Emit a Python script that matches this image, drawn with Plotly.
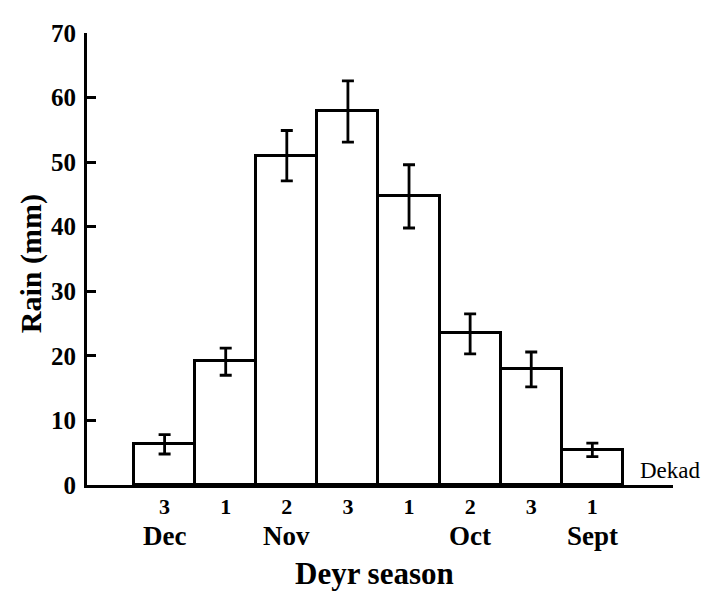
import plotly.graph_objects as go

# Data
positions = [1, 2, 3, 4, 5, 6, 7, 8]
dekads = ["3", "1", "2", "3", "1", "2", "3", "1"]
rain = [6.3, 19.2, 51.0, 57.9, 44.7, 23.5, 17.9, 5.4]
err_high = [7.8, 21.2, 54.9, 62.6, 49.6, 26.5, 20.6, 6.5]
err_low = [4.8, 17.0, 47.1, 53.1, 39.8, 20.3, 15.2, 4.4]
month_pos = [1, 3, 6, 8]
months = ["Dec", "Nov", "Oct", "Sept"]
y_ticks = [0, 10, 20, 30, 40, 50, 60, 70]

SERIF = "Liberation Serif, Times New Roman, serif"

fig = go.Figure()
fig.add_trace(go.Bar(
    x=positions,
    y=rain,
    width=1.0,
    marker=dict(color="white", line=dict(color="black", width=3)),
    error_y=dict(
        type="data",
        symmetric=False,
        array=[h - v for h, v in zip(err_high, rain)],
        arrayminus=[v - l for v, l in zip(rain, err_low)],
        color="black",
        thickness=2.8,
        width=6,
    ),
    showlegend=False,
))

annotations = []
for p, m in zip(month_pos, months):
    annotations.append(dict(
        x=p, y=-0.113, xref="x", yref="paper", text="<b>%s</b>" % m,
        showarrow=False, xanchor="center", yanchor="middle",
        font=dict(family=SERIF, size=27, color="black"),
    ))
annotations.append(dict(
    x=0.491, y=-0.196, xref="paper", yref="paper", text="<b>Deyr season</b>",
    showarrow=False, xanchor="center", yanchor="middle",
    font=dict(family=SERIF, size=31, color="black"),
))
annotations.append(dict(
    x=-0.096, y=0.49, xref="paper", yref="paper", text="<b>Rain (mm)</b>",
    showarrow=False, xanchor="center", yanchor="middle", textangle=-90,
    font=dict(family=SERIF, size=30, color="black"),
))
annotations.append(dict(
    x=0.94, y=0.033, xref="paper", yref="paper", text="Dekad",
    showarrow=False, xanchor="left", yanchor="middle",
    font=dict(family=SERIF, size=23, color="black"),
))

fig.update_layout(
    width=705, height=589,
    margin=dict(l=79, r=40, t=12, b=112),
    paper_bgcolor="white", plot_bgcolor="white",
    bargap=0,
    annotations=annotations,
    xaxis=dict(
        range=[-0.27, 9.32],
        tickmode="array", tickvals=positions,
        ticktext=["<b>%s</b>" % d for d in dekads],
        ticks="", showline=True, linecolor="black", linewidth=3,
        showgrid=False, zeroline=False,
        ticklabelstandoff=0,
        tickfont=dict(family=SERIF, size=22, color="black"),
    ),
    yaxis=dict(
        range=[0, 70],
        tickmode="array", tickvals=y_ticks,
        ticktext=["<b>%d</b>" % t for t in y_ticks],
        ticks="inside", ticklen=9, tickwidth=2.5, tickcolor="black",
        showline=True, linecolor="black", linewidth=3,
        showgrid=False, zeroline=False,
        ticklabelstandoff=3,
        ticklabeloverflow="allow",
        tickfont=dict(family=SERIF, size=25, color="black"),
    ),
)

fig.write_html("out.html")
